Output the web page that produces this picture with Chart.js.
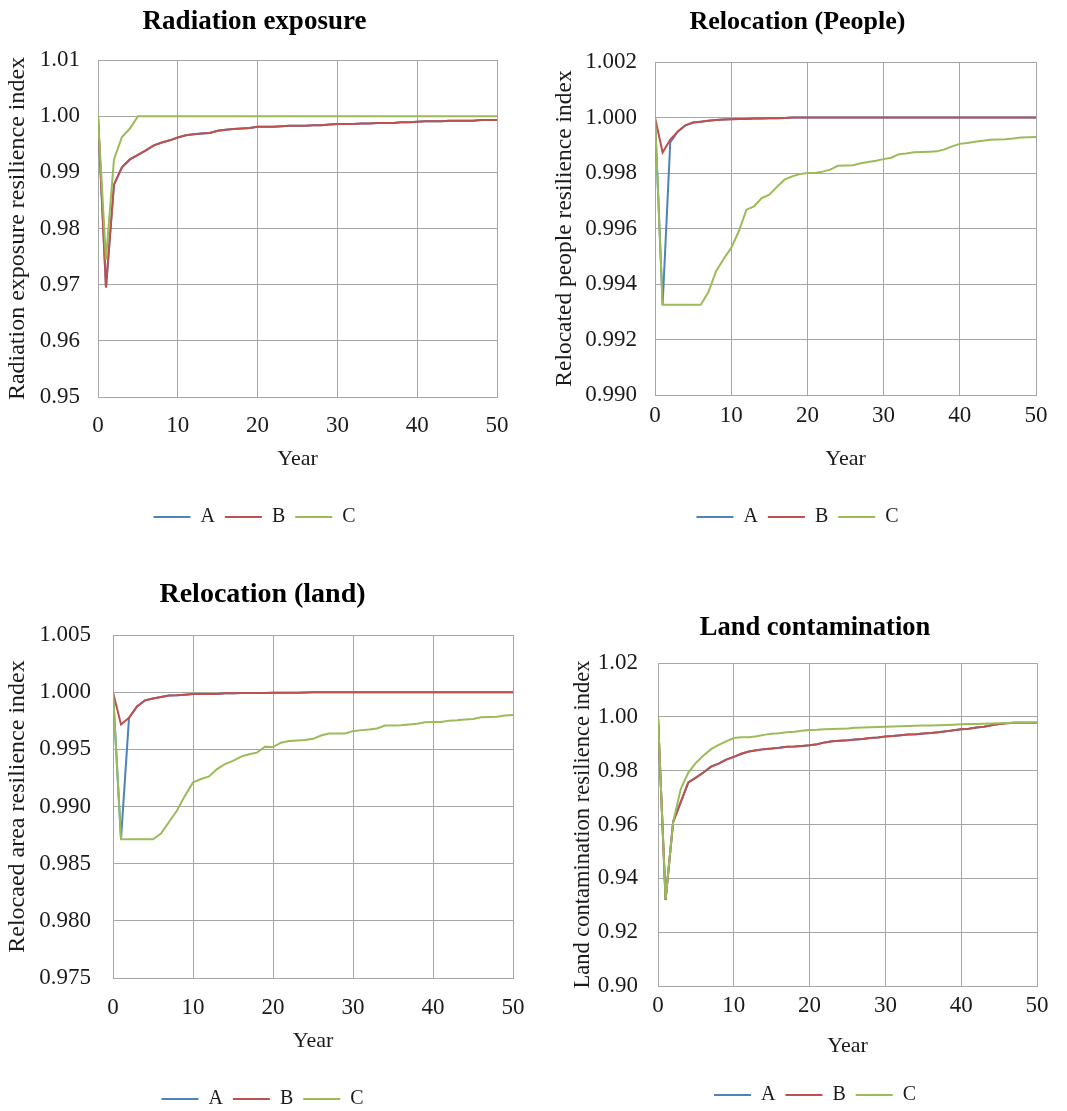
<!DOCTYPE html>
<html>
<head>
<meta charset="utf-8">
<script src="https://cdn.jsdelivr.net/npm/chart.js@4.4.1/dist/chart.umd.min.js"></script>
<style>
  html, body { margin: 0; padding: 0; background: #fff; overflow: hidden; }
  body { width: 1067px; height: 1111px; position: relative; }
  canvas { position: absolute; display: block; }
</style>
</head>
<body>
<canvas id="c1" width="512" height="537" style="left:0px;top:0px;width:512px;height:537px;"></canvas>
<canvas id="c2" width="514" height="537" style="left:540px;top:0px;width:514px;height:537px;"></canvas>
<canvas id="c3" width="528" height="549" style="left:0px;top:570px;width:528px;height:549px;"></canvas>
<canvas id="c4" width="510" height="515" style="left:560px;top:600px;width:510px;height:515px;"></canvas>
<script>
// years on the x axis
const years = [0, 1, 2, 3, 4, 5, 6, 7, 8, 9, 10, 11, 12, 13, 14, 15, 16, 17, 18, 19, 20,
  21, 22, 23, 24, 25, 26, 27, 28, 29, 30, 31, 32, 33, 34, 35, 36, 37, 38, 39, 40,
  41, 42, 43, 44, 45, 46, 47, 48, 49, 50];

const seriesNames = ["A", "B", "C"];

// Radiation exposure
const radA = [1.0, 0.9695, 0.9878, 0.9909, 0.9923, 0.9931, 0.9939, 0.9948, 0.9953, 0.9957,
  0.9962, 0.9966, 0.9968, 0.9969, 0.9970, 0.9974, 0.9976, 0.9977, 0.9978, 0.9979,
  0.9981, 0.9981, 0.9981, 0.9982, 0.9983, 0.9983, 0.9983, 0.9984, 0.9984, 0.9985,
  0.9986, 0.9986, 0.9986, 0.9987, 0.9987, 0.9988, 0.9988, 0.9988, 0.9989, 0.9989,
  0.9990, 0.9991, 0.9991, 0.9991, 0.9992, 0.9992, 0.9992, 0.9992, 0.9993, 0.9993, 0.9993];
const radB = [1.0, 0.9695, 0.9878, 0.9909, 0.9923, 0.9931, 0.9939, 0.9948, 0.9953, 0.9957,
  0.9962, 0.9966, 0.9968, 0.9969, 0.9970, 0.9974, 0.9976, 0.9977, 0.9978, 0.9979,
  0.9981, 0.9981, 0.9981, 0.9982, 0.9983, 0.9983, 0.9983, 0.9984, 0.9984, 0.9985,
  0.9986, 0.9986, 0.9986, 0.9987, 0.9987, 0.9988, 0.9988, 0.9988, 0.9989, 0.9989,
  0.9990, 0.9991, 0.9991, 0.9991, 0.9992, 0.9992, 0.9992, 0.9992, 0.9993, 0.9993, 0.9993];
const radC = [1.0, 0.9745, 0.9923, 0.9963, 0.9978, 1.0, 1.0, 1.0, 1.0, 1.0,
  1.0, 1.0, 1.0, 1.0, 1.0, 1.0, 1.0, 1.0, 1.0, 1.0,
  1.0, 1.0, 1.0, 1.0, 1.0, 1.0, 1.0, 1.0, 1.0, 1.0,
  1.0, 1.0, 1.0, 1.0, 1.0, 1.0, 1.0, 1.0, 1.0, 1.0,
  1.0, 1.0, 1.0, 1.0, 1.0, 1.0, 1.0, 1.0, 1.0, 1.0, 1.0];

// Relocation (People)
const pplA = [1.0, 0.99325, 0.9991, 0.9995, 0.99972, 0.99982, 0.99985, 0.99988, 0.99991, 0.99993,
  0.99994, 0.99995, 0.99995, 0.99996, 0.99996, 0.99997, 0.99997, 0.99998, 1.0, 1.0,
  1.0, 1.0, 1.0, 1.0, 1.0, 1.0, 1.0, 1.0, 1.0, 1.0,
  1.0, 1.0, 1.0, 1.0, 1.0, 1.0, 1.0, 1.0, 1.0, 1.0,
  1.0, 1.0, 1.0, 1.0, 1.0, 1.0, 1.0, 1.0, 1.0, 1.0, 1.0];
const pplB = [1.0, 0.99874, 0.9992, 0.9995, 0.99972, 0.99982, 0.99985, 0.99988, 0.99991, 0.99993,
  0.99994, 0.99995, 0.99995, 0.99996, 0.99996, 0.99997, 0.99997, 0.99998, 1.0, 1.0,
  1.0, 1.0, 1.0, 1.0, 1.0, 1.0, 1.0, 1.0, 1.0, 1.0,
  1.0, 1.0, 1.0, 1.0, 1.0, 1.0, 1.0, 1.0, 1.0, 1.0,
  1.0, 1.0, 1.0, 1.0, 1.0, 1.0, 1.0, 1.0, 1.0, 1.0, 1.0];
const pplC = [1.0, 0.99325, 0.99325, 0.99325, 0.99325, 0.99325, 0.99325, 0.9937, 0.99445, 0.9949,
  0.9953, 0.9959, 0.99668, 0.9968, 0.9971, 0.99722, 0.9975, 0.99776, 0.99788, 0.99796,
  0.998, 0.998, 0.99805, 0.99812, 0.99826, 0.99827, 0.99828, 0.99835, 0.9984, 0.99844,
  0.9985, 0.99855, 0.99868, 0.9987, 0.99875, 0.99876, 0.99877, 0.99878, 0.99885, 0.99896,
  0.99905, 0.99908, 0.99913, 0.99916, 0.9992, 0.99921, 0.99922, 0.99924, 0.99928, 0.99929, 0.9993];

// Relocation (land)
const lndA = [1.0, 0.98714, 0.99775, 0.99876, 0.99928, 0.99945, 0.99957, 0.9997, 0.99972, 0.99977,
  0.99983, 0.99983, 0.99984, 0.99985, 0.99991, 0.99991, 0.99992, 0.99992, 0.99993, 0.99993,
  0.99994, 0.99994, 0.99995, 0.99995, 0.99997, 1.0, 1.0, 1.0, 1.0, 1.0,
  1.0, 1.0, 1.0, 1.0, 1.0, 1.0, 1.0, 1.0, 1.0, 1.0,
  1.0, 1.0, 1.0, 1.0, 1.0, 1.0, 1.0, 1.0, 1.0, 1.0, 1.0];
const lndB = [1.0, 0.99717, 0.99775, 0.99876, 0.99928, 0.99945, 0.99957, 0.9997, 0.99972, 0.99977,
  0.99983, 0.99983, 0.99984, 0.99985, 0.99991, 0.99991, 0.99992, 0.99992, 0.99993, 0.99993,
  0.99994, 0.99994, 0.99995, 0.99995, 0.99997, 1.0, 1.0, 1.0, 1.0, 1.0,
  1.0, 1.0, 1.0, 1.0, 1.0, 1.0, 1.0, 1.0, 1.0, 1.0,
  1.0, 1.0, 1.0, 1.0, 1.0, 1.0, 1.0, 1.0, 1.0, 1.0, 1.0];
const lndC = [1.0, 0.98714, 0.98714, 0.98714, 0.98714, 0.98714, 0.98763, 0.98864, 0.98965, 0.99095,
  0.99211, 0.9924, 0.99263, 0.99327, 0.9937, 0.99399, 0.99436, 0.99457, 0.99471, 0.99523,
  0.9952, 0.99558, 0.99572, 0.99578, 0.99581, 0.99592, 0.99621, 0.99639, 0.99639, 0.99639,
  0.99659, 0.99668, 0.99673, 0.99682, 0.99708, 0.99708, 0.99711, 0.99717, 0.99723, 0.99737,
  0.9974, 0.9974, 0.99751, 0.99754, 0.9976, 0.99766, 0.9978, 0.99783, 0.99786, 0.99795, 0.998];

// Land contamination
const conA = [1.0, 0.932, 0.961, 0.9683, 0.9756, 0.9774, 0.9793, 0.9815, 0.9826, 0.9841,
  0.9851, 0.9863, 0.9871, 0.9876, 0.9880, 0.9882, 0.9885, 0.9889, 0.9890, 0.9892,
  0.9894, 0.9898, 0.9905, 0.9909, 0.9911, 0.9913, 0.9916, 0.9918, 0.9921, 0.9923,
  0.9927, 0.9929, 0.9932, 0.9934, 0.9935, 0.9938, 0.9940, 0.9943, 0.9946, 0.9950,
  0.9954, 0.9956, 0.9960, 0.9963, 0.9969, 0.9973, 0.9976, 0.9978, 0.9978, 0.9978, 0.9978];
const conB = [1.0, 0.932, 0.961, 0.9683, 0.9756, 0.9774, 0.9793, 0.9815, 0.9826, 0.9841,
  0.9851, 0.9863, 0.9871, 0.9876, 0.9880, 0.9882, 0.9885, 0.9889, 0.9890, 0.9892,
  0.9894, 0.9898, 0.9905, 0.9909, 0.9911, 0.9913, 0.9916, 0.9918, 0.9921, 0.9923,
  0.9927, 0.9929, 0.9932, 0.9934, 0.9935, 0.9938, 0.9940, 0.9943, 0.9946, 0.9950,
  0.9954, 0.9956, 0.9960, 0.9963, 0.9969, 0.9973, 0.9976, 0.9978, 0.9978, 0.9978, 0.9978];
const conC = [1.0, 0.9323, 0.961, 0.9732, 0.9793, 0.9829, 0.9856, 0.988, 0.9896, 0.9909,
  0.9921, 0.9924, 0.9924, 0.9928, 0.9933, 0.9937, 0.9939, 0.9943, 0.9945, 0.9948,
  0.9951, 0.9952, 0.9954, 0.9955, 0.9956, 0.9957, 0.9959, 0.996, 0.9961, 0.9962,
  0.9963, 0.9964, 0.9965, 0.9966, 0.9967, 0.9968, 0.9968, 0.9969, 0.997, 0.9971,
  0.9972, 0.9973, 0.9973, 0.9974, 0.9975, 0.9976, 0.9977, 0.9978, 0.9978, 0.9978, 0.9978];

const colors = ["#4F81BD", "#C0504D", "#9BBB59"];
const serif = "'Liberation Serif', 'Times New Roman', serif";
const textColor = "#1a1a1a";
const gridColor = "#a6a6a6";

function makePanel(canvasId, p) {
    const datasets = [p.a, p.b, p.c].map(function (vals, i) {
        return {
            label: seriesNames[i],
            data: years.map(function (yr, j) { return { x: yr, y: vals[j] }; }),
            borderColor: colors[i],
            backgroundColor: colors[i],
            borderWidth: 2,
            pointRadius: 0,
            tension: 0,
            order: 2 - i
        };
    });

    new Chart(document.getElementById(canvasId), {
        type: "line",
        data: { datasets: datasets },
        options: {
            responsive: false,
            animation: false,
            devicePixelRatio: 1,
            layout: { autoPadding: false, padding: p.pad },
            plugins: {
                title: {
                    display: true,
                    text: p.title,
                    color: "#000",
                    font: { family: serif, size: p.titleSize, weight: "bold" },
                    padding: { top: 0, bottom: p.titleGap }
                },
                legend: {
                    position: "bottom",
                    labels: {
                        color: textColor,
                        font: { family: serif, size: 20 },
                        usePointStyle: true,
                        pointStyle: "line",
                        pointStyleWidth: 37,
                        padding: 10,
                        sort: function (a, b) { return a.datasetIndex - b.datasetIndex; }
                    }
                },
                tooltip: { enabled: false }
            },
            scales: {
                x: {
                    type: "linear",
                    min: 0,
                    max: 50,
                    afterFit: function (s) { s.height = p.xH; },
                    ticks: {
                        stepSize: 10,
                        color: textColor,
                        padding: 3,
                        font: { family: serif, size: 23 }
                    },
                    grid: {
                        color: gridColor,
                        drawTicks: true,
                        tickLength: p.xTickLen,
                        tickColor: "rgba(0,0,0,0)"
                    },
                    border: { color: gridColor },
                    title: {
                        display: true,
                        text: "Year",
                        color: textColor,
                        font: { family: serif, size: 22 },
                        padding: { top: 0, bottom: p.yearPad }
                    }
                },
                y: {
                    min: p.min,
                    max: p.max,
                    afterFit: function (s) { s.width = p.yW; },
                    ticks: {
                        stepSize: p.step,
                        color: textColor,
                        padding: p.yTickPad,
                        font: { family: serif, size: 23 },
                        callback: function (v) { return Number(v).toFixed(p.dec); }
                    },
                    grid: { color: gridColor, drawTicks: false },
                    border: { color: gridColor },
                    title: {
                        display: true,
                        text: p.yTitle,
                        color: textColor,
                        font: { family: serif, size: p.yTitleSize },
                        padding: { top: p.yTitleOff, bottom: 4 }
                    }
                }
            }
        }
    });
}

makePanel("c1", {
    title: "Radiation exposure", yTitle: "Radiation exposure resilience index",
    a: radA, b: radB, c: radC, min: 0.95, max: 1.01, step: 0.01, dec: 2,
    pad: { left: 12, right: 15, top: 6, bottom: 0 }, titleSize: 27, titleGap: 21.6,
    yW: 86, yTickPad: 18, yTitleSize: 24, yTitleOff: -8.4,
    xH: 100, xTickLen: 12, yearPad: 25
});

makePanel("c2", {
    title: "Relocation (People)", yTitle: "Relocated people resilience index",
    a: pplA, b: pplB, c: pplC, min: 0.990, max: 1.002, step: 0.002, dec: 3,
    pad: { left: 19, right: 18, top: 7, bottom: 0 }, titleSize: 26, titleGap: 23.8,
    yW: 96, yTickPad: 18, yTitleSize: 23.5, yTitleOff: -8.1,
    xH: 102, xTickLen: 4, yearPad: 25
});

makePanel("c3", {
    title: "Relocation (land)", yTitle: "Relocaed area resilience index",
    a: lndA, b: lndB, c: lndC, min: 0.975, max: 1.005, step: 0.005, dec: 3,
    pad: { left: 12, right: 15, top: 8, bottom: 0 }, titleSize: 28, titleGap: 23.4,
    yW: 101, yTickPad: 22, yTitleSize: 24, yTitleOff: -8.4,
    xH: 101, xTickLen: 13, yearPad: 25
});

makePanel("c4", {
    title: "Land contamination", yTitle: "Land contamination resilience index",
    a: conA, b: conB, c: conC, min: 0.90, max: 1.02, step: 0.02, dec: 2,
    pad: { left: 33, right: 33, top: 12, bottom: 0 }, titleSize: 26.5, titleGap: 19.2,
    yW: 65, yTickPad: 20, yTitleSize: 22.5, yTitleOff: -23.5,
    xH: 89, xTickLen: 3, yearPad: 16
});
</script>
</body>
</html>
